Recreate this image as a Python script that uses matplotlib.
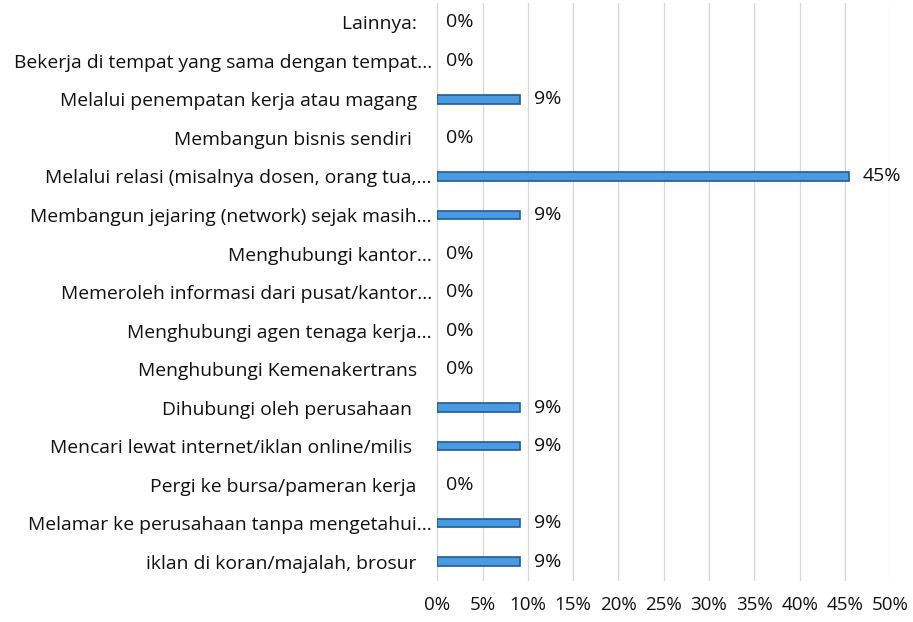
import matplotlib.pyplot as plt
from matplotlib.ticker import MultipleLocator, PercentFormatter

# Data (top to bottom as in the picture)
# some labels in the source carry trailing blanks, which shifts them left
categories = [
    'Lainnya:   ',
    'Bekerja di tempat yang sama dengan tempat...',
    'Melalui penempatan kerja atau magang   ',
    'Membangun bisnis sendiri    ',
    'Melalui relasi (misalnya dosen, orang tua,...',
    'Membangun jejaring (network) sejak masih...',
    'Menghubungi kantor...',
    'Memeroleh informasi dari pusat/kantor...',
    'Menghubungi agen tenaga kerja...',
    'Menghubungi Kemenakertrans   ',
    'Dihubungi oleh perusahaan    ',
    'Mencari lewat internet/iklan online/milis    ',
    'Pergi ke bursa/pameran kerja   ',
    'Melamar ke perusahaan tanpa mengetahui...',
    'iklan di koran/majalah, brosur   ',
]
values = [0, 0, 9.09, 0, 45.45, 9.09, 0, 0, 0, 0, 9.09, 9.09, 0, 9.09, 9.09]
value_labels = ['0%', '0%', '9%', '0%', '45%', '9%', '0%', '0%', '0%', '0%',
                '9%', '9%', '0%', '9%', '9%']

plt.rcParams['font.family'] = ['Open Sans', 'DejaVu Sans']

fig = plt.figure(figsize=(9.13, 6.22), dpi=100)
ax = fig.add_axes([0.479, 0.066, 0.496, 0.929])

n = len(categories)
ypos = list(range(n))[::-1]  # first category on top

edges = ['#1d5c9e' if v > 0 else 'none' for v in values]
ax.barh(ypos, values, height=0.22, color='#4a9ae0', edgecolor=edges,
        linewidth=1.2, zorder=3)

for y, v, lab in zip(ypos, values, value_labels):
    ax.annotate(lab, xy=(v, y), xytext=(10 if v > 0 else 6, 0),
                textcoords='offset points', ha='left', va='center',
                fontsize=14, color='#111111')

ax.set_yticks(ypos)
ax.set_yticklabels(categories, fontsize=13.9, color='#111111')
ax.set_ylim(-0.5, n - 0.5)
ax.set_xlim(0, 50)
ax.xaxis.set_major_locator(MultipleLocator(5))
ax.xaxis.set_major_formatter(PercentFormatter(decimals=0))
ax.tick_params(axis='x', labelsize=13.5, colors='#111111', length=0, pad=11)
ax.tick_params(axis='y', length=0, pad=4)

ax.grid(axis='x', color='#d8d8d8', linewidth=0.9, zorder=0)
for s in ax.spines.values():
    s.set_visible(False)

plt.savefig('out.png', dpi=100)
